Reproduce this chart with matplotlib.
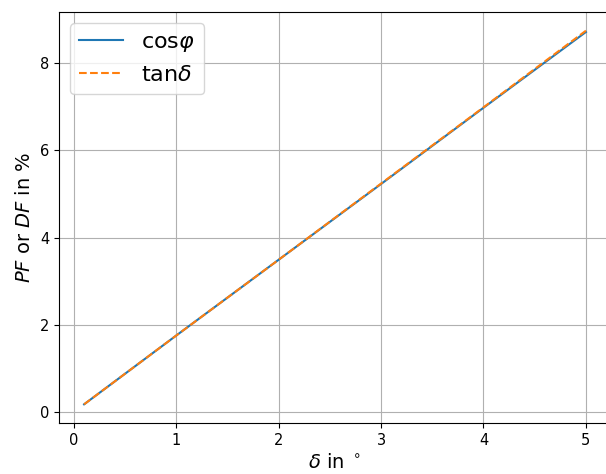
import matplotlib
matplotlib.use("Agg")
import matplotlib.pyplot as plt

# Loss angle in degrees and the resulting power factor / dissipation factor in %
delta_deg = [0.1, 1, 2, 3, 4, 5]
power_factor = [0.17, 1.75, 3.49, 5.23, 6.98, 8.72]
dissipation_factor = [0.17, 1.75, 3.49, 5.24, 6.99, 8.75]

fig = plt.figure(figsize=(6.06, 4.74), dpi=100)
ax = fig.add_axes([59 / 606, 1 - 423 / 474, 552 / 606, 411 / 474])

ax.plot(delta_deg, power_factor, color="#1f77b4", label=r"cos$\varphi$")
ax.plot(delta_deg, dissipation_factor, color="#ff7f0e", linestyle="--", label=r"tan$\delta$")

ax.set_xlabel(r"$\delta$ in $^\circ$", fontsize=14)
ax.set_ylabel(r"$PF$ or $DF$ in %", fontsize=14)
ax.tick_params(labelsize=10.5)
ax.grid(True)
ax.legend(fontsize=16, loc="upper left")

fig.savefig("out.png", dpi=100)
